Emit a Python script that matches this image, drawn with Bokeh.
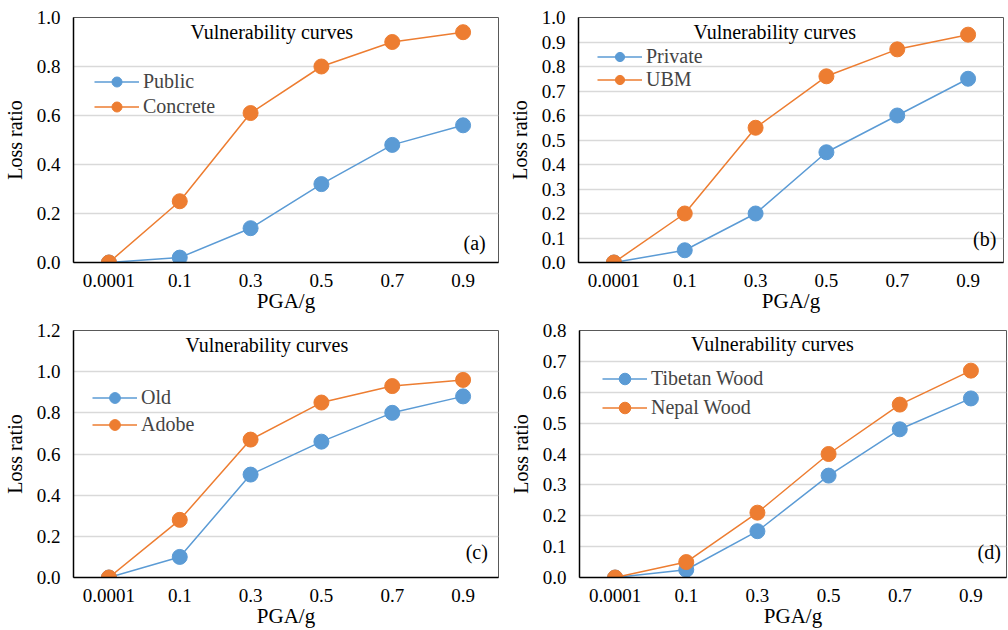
from bokeh.plotting import figure
from bokeh.models import FactorRange, Range1d, Label, Legend, LegendItem, FixedTicker, NumeralTickFormatter
from bokeh.layouts import column, row
from bokeh.embed import file_html
from bokeh.resources import INLINE

# ---------------- data ----------------
pga = ["0.0001", "0.1", "0.3", "0.5", "0.7", "0.9"]

public = [0.0, 0.02, 0.14, 0.32, 0.48, 0.56]
concrete = [0.0, 0.25, 0.61, 0.80, 0.90, 0.94]

private = [0.0, 0.05, 0.20, 0.45, 0.60, 0.75]
ubm = [0.0, 0.20, 0.55, 0.76, 0.87, 0.93]

old = [0.0, 0.10, 0.50, 0.66, 0.80, 0.88]
adobe = [0.0, 0.28, 0.67, 0.85, 0.93, 0.96]

tibetan_wood = [0.0, 0.025, 0.15, 0.33, 0.48, 0.58]
nepal_wood = [0.0, 0.05, 0.21, 0.40, 0.56, 0.67]

BLUE = "#5b9bd5"
ORANGE = "#ed7d31"
FONT = "Liberation Serif"
FS = "20px"
TICK_FS = "19px"


def style_axis(ax, label, label_standoff, tick_standoff, label_size=FS):
    ax.axis_label = label
    ax.axis_line_color = "black"
    ax.axis_line_width = 1.5
    ax.major_tick_line_color = None
    ax.minor_tick_line_color = None
    ax.major_label_text_font = FONT
    ax.major_label_text_font_size = TICK_FS
    ax.major_label_text_color = "black"
    ax.axis_label_text_font = FONT
    ax.axis_label_text_font_size = label_size
    ax.axis_label_text_font_style = "normal"
    ax.axis_label_text_color = "black"
    ax.axis_label_standoff = label_standoff
    ax.major_label_standoff = tick_standoff


def panel(width, height, bl, br, bt, bb, ymax, ystep, s1, n1, s2, n2, tag,
          title_xy, tag_xy, leg_loc, leg_h):
    p = figure(width=width, height=height,
               x_range=FactorRange(factors=pga, range_padding=0),
               y_range=Range1d(0, ymax),
               output_backend="svg", toolbar_location=None,
               min_border_left=bl, min_border_right=br,
               min_border_top=bt, min_border_bottom=bb)
    p.outline_line_color = "#595959"
    p.outline_line_width = 1
    p.xgrid.grid_line_color = None
    p.ygrid.grid_line_color = "#d9d9d9"
    p.ygrid.grid_line_width = 1.5
    nt = int(round(ymax / ystep))
    yax = p.left[0]
    xax = p.below[0]
    yax.ticker = FixedTicker(ticks=[round(i * ystep, 2) for i in range(nt + 1)])
    yax.formatter = NumeralTickFormatter(format="0.0")
    style_axis(xax, "PGA/g", -1, 5, "21px")
    style_axis(yax, "Loss ratio", 8, 7)

    items = []
    for vals, name, col in ((s1, n1, BLUE), (s2, n2, ORANGE)):
        ln = p.line(pga, vals, line_color=col, line_width=1.5)
        sc = p.scatter(pga, vals, size=15, fill_color=col, line_color=col)
        items.append(LegendItem(label=name, renderers=[ln, sc]))

    leg = Legend(items=items, location=leg_loc, border_line_color=None,
                 background_fill_alpha=0, padding=0, margin=0, spacing=0,
                 label_text_font=FONT, label_text_font_size=FS,
                 glyph_width=45, glyph_height=leg_h, label_height=leg_h,
                 label_standoff=4)
    p.add_layout(leg)

    p.add_layout(Label(x=title_xy[0], y=title_xy[1], text="Vulnerability curves",
                       text_align="center", text_baseline="middle",
                       text_font=FONT, text_font_size=FS, text_color="black"))
    p.add_layout(Label(x=tag_xy[0], y=tag_xy[1], text=tag,
                       text_align="right", text_baseline="middle",
                       text_font=FONT, text_font_size=FS, text_color="black"))
    return p


pa = panel(500, 315, 72, 2, 17, 52, 1.0, 0.2, public, "Public", concrete, "Concrete", "(a)",
           (2.8, 0.94), (5.82, 0.08), (21, 143), 25)
pb = panel(508, 315, 78, 5, 17, 48, 1.0, 0.1, private, "Private", ubm, "UBM", "(b)",
           (2.77, 0.94), (5.9, 0.096), (19, 171), 23)
pc = panel(500, 315, 68, 2, 14, 51, 1.2, 0.2, old, "Old", adobe, "Adobe", "(c)",
           (2.73, 1.128), (5.85, 0.125), (19, 139), 27)
pd = panel(508, 315, 79, 2, 15, 51, 0.8, 0.1, tibetan_wood, "Tibetan Wood", nepal_wood, "Nepal Wood", "(d)",
           (2.71, 0.755), (5.92, 0.083), (23, 155), 29)

layout = column(row(pa, pb), row(pc, pd))
open("out.html", "w").write(file_html(layout, INLINE))
